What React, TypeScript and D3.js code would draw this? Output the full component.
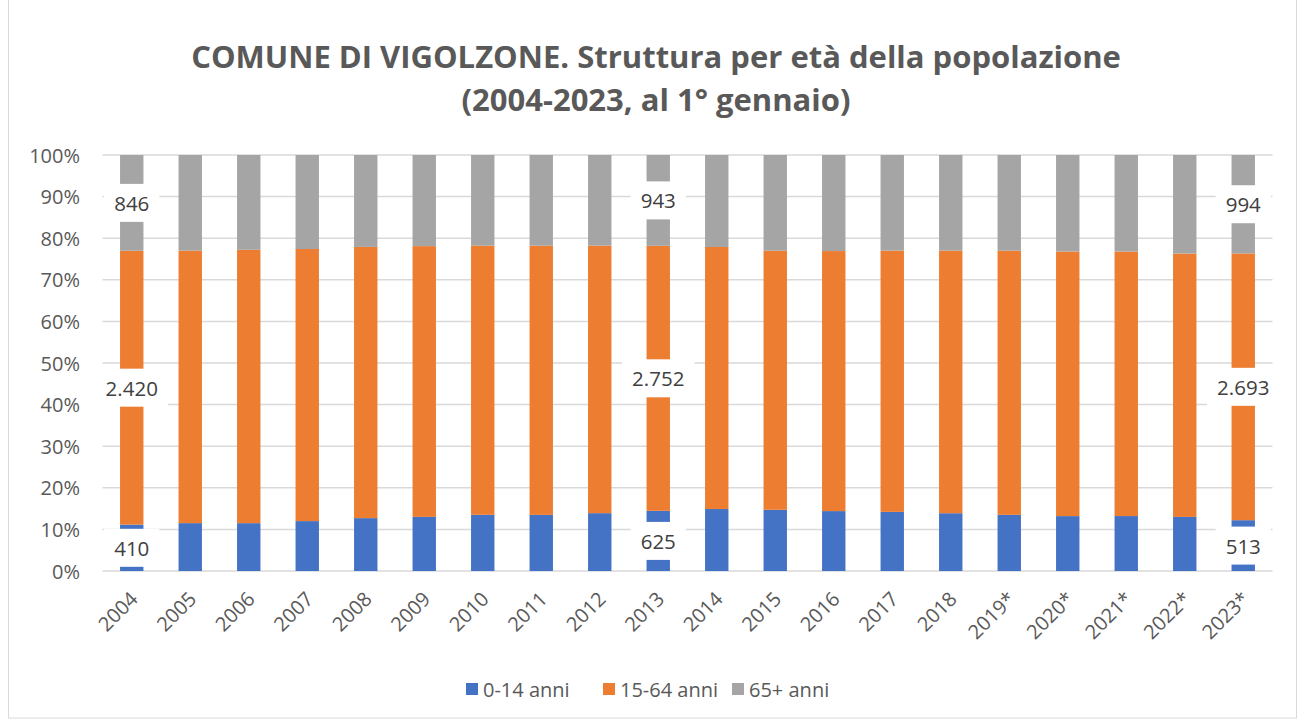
import React from "react";
import * as d3 from "d3";

const years = ["2004","2005","2006","2007","2008","2009","2010","2011","2012","2013","2014","2015","2016","2017","2018","2019*","2020*","2021*","2022*","2023*"];
const age0_14 = [410,435,445,475,516,540,570,576,598,625,642,631,615,604,589,571,557,556,546,513];
const age15_64 = [2420,2476,2543,2590,2647,2701,2730,2763,2765,2752,2715,2672,2669,2669,2676,2686,2684,2677,2659,2693];
const age65 = [846,869,882,895,897,909,920,931,937,943,953,987,986,977,975,973,979,977,995,994];
const labeledYears = ["2004","2013","2023*"];
const seriesNames = ["0-14 anni","15-64 anni","65+ anni"];
const seriesColors = ["#4472C4","#ED7D31","#A5A5A5"];
const yTicks = [0,0.1,0.2,0.3,0.4,0.5,0.6,0.7,0.8,0.9,1];
const titleLines = ["COMUNE DI VIGOLZONE. Struttura per età della popolazione","(2004-2023, al 1° gennaio)"];

const W = 1303, H = 722;
const plot = { left: 102.5, right: 1272.5, top: 155, bottom: 571 };
const FONT = "'Open Sans', 'Noto Sans', sans-serif";

const itLocale = d3.formatLocale({ decimal: ",", thousands: ".", grouping: [3], currency: ["€", ""] });
const fmt = itLocale.format(",d");

function textWidth(s: string, size: number) {
  let w = 0;
  for (const c of s) w += c === "." ? 0.27 : 0.572;
  return w * size;
}

export default function App() {
  const rows = years.map((y, i) => ({ year: y, a: age0_14[i], b: age15_64[i], c: age65[i] }));
  const stack = d3.stack<any>().keys(["a","b","c"]).offset(d3.stackOffsetExpand);
  const series = stack(rows);
  const x = d3.scaleBand().domain(years).range([plot.left, plot.right]).paddingInner(0.6).paddingOuter(0.3);
  const y = d3.scaleLinear().domain([0, 1]).range([plot.bottom, plot.top]);
  const pct = d3.format(".0%");
  const labelSize = 20.5;

  const legendItems = [
    { x: 466 },
    { x: 603 },
    { x: 732 },
  ];

  return (
    <svg width={W} height={H} style={{ position: "absolute", left: 0, top: 0, background: "#fff" }}>
      <rect x={8.5} y={-1} width={1288} height={719} fill="#fff" stroke="#d9d9d9" strokeWidth={1} />
      {titleLines.map((t, i) => (
        <text key={i} x={656} y={68 + i * 43} textAnchor="middle" fontFamily={FONT}
          fontWeight="bold" fontSize={31} fill="#595959">{t}</text>
      ))}
      {yTicks.map((t) => (
        <g key={t}>
          <line x1={plot.left} x2={plot.right} y1={y(t)} y2={y(t)} stroke="#d9d9d9" strokeWidth={1.5} />
          <text x={80} y={y(t)} textAnchor="end" dominantBaseline="central" fontFamily={FONT} fontSize={20} fill="#595959">{pct(t)}</text>
        </g>
      ))}
      {series.map((s, si) => (
        <g key={si}>
          {s.map((d: any, di: number) => (
            <rect key={di} x={x(years[di])} width={x.bandwidth()} y={y(d[1])} height={y(d[0]) - y(d[1])}
              fill={seriesColors[si]} />
          ))}
        </g>
      ))}
      {series.map((s, si) => (
        <g key={"l" + si}>
          {s.map((d: any, di: number) => {
            if (!labeledYears.includes(years[di])) return null;
            const val = [age0_14, age15_64, age65][si][di];
            const txt = fmt(val);
            const cx = (x(years[di]) as number) + x.bandwidth() / 2;
            const cy = (y(d[0]) + y(d[1])) / 2;
            const bw = textWidth(txt, labelSize) + 20;
            return (
              <g key={di}>
                <rect x={cx - bw / 2} y={cy - 19} width={bw} height={38} fill="#fff" />
                <text x={cx} y={cy} textAnchor="middle" dominantBaseline="central" fontFamily={FONT} fontSize={labelSize} fill="#404040">{txt}</text>
              </g>
            );
          })}
        </g>
      ))}
      {years.map((yr) => {
        const cx = (x(yr) as number) + x.bandwidth() / 2;
        return (
          <text key={yr} transform={`translate(${cx + 2},${plot.bottom + 24}) rotate(-45)`} textAnchor="end"
            dominantBaseline="central" fontFamily={FONT} fontSize={20} fill="#595959">{yr}</text>
        );
      })}
      {seriesNames.map((n, i) => (
        <g key={n}>
          <rect x={legendItems[i].x} y={683} width={12} height={12} fill={seriesColors[i]} />
          <text x={legendItems[i].x + 17} y={689} dominantBaseline="central" fontFamily={FONT} fontSize={20} fill="#595959">{n}</text>
        </g>
      ))}
    </svg>
  );
}
